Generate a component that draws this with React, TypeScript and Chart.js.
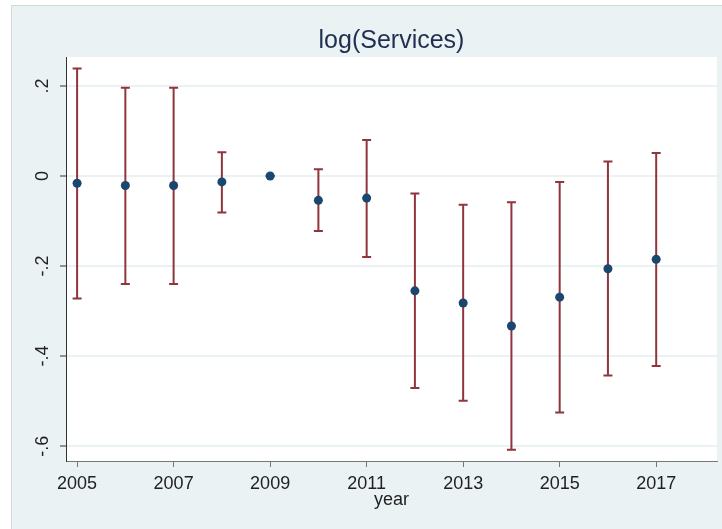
import React, { useEffect, useRef } from 'react';
import { Chart, registerables } from 'chart.js';

Chart.register(...registerables);

const chartTitle = 'log(Services)';
const xAxisTitle = 'year';
const years = [2005, 2006, 2007, 2008, 2009, 2010, 2011, 2012, 2013, 2014, 2015, 2016, 2017];
const coef = [-0.016, -0.021, -0.021, -0.013, 0, -0.054, -0.049, -0.255, -0.282, -0.333, -0.269, -0.206, -0.185];
const upper = [0.239, 0.196, 0.196, 0.053, 0, 0.015, 0.08, -0.039, -0.064, -0.058, -0.013, 0.032, 0.051];
const lower = [-0.272, -0.24, -0.24, -0.081, 0, -0.122, -0.18, -0.471, -0.499, -0.608, -0.525, -0.443, -0.422];
const xTicks = [2005, 2007, 2009, 2011, 2013, 2015, 2017];
const yTicks = [-0.6, -0.4, -0.2, 0, 0.2];

const FONT = '"Liberation Sans", Arial, Helvetica, sans-serif';
const PANEL = '#eaf2f3';
const NAVY = '#1a476f';
const MAROON = '#90353b';

const fmtY = (v: number) => {
  if (Math.abs(v) < 1e-9) return '0';
  const s = Math.abs(v).toFixed(1).replace(/^0/, '');
  return (v < 0 ? '-' : '') + s;
};

const backgroundPlugin = {
  id: 'bgPanel',
  beforeDraw(chart: any) {
    const { ctx, chartArea, width, height } = chart;
    ctx.save();
    ctx.fillStyle = '#ffffff';
    ctx.fillRect(0, 0, width, height);
    ctx.fillStyle = PANEL;
    ctx.fillRect(11, 5, width - 11, height - 5);
    ctx.strokeStyle = '#d3d8da';
    ctx.lineWidth = 1;
    ctx.beginPath();
    ctx.moveTo(11.5, height);
    ctx.lineTo(11.5, 5.5);
    ctx.lineTo(width, 5.5);
    ctx.stroke();
    ctx.fillStyle = '#ffffff';
    ctx.fillRect(chartArea.left, chartArea.top, chartArea.right - chartArea.left, chartArea.bottom - chartArea.top);
    // title
    ctx.fillStyle = '#1f2f4f';
    ctx.font = `25px ${FONT}`;
    ctx.textAlign = 'center';
    ctx.textBaseline = 'alphabetic';
    ctx.fillText(chartTitle, (chartArea.left + chartArea.right) / 2, 48);
    ctx.restore();
  },
};

const errorBarPlugin = {
  id: 'errorBars',
  beforeDatasetsDraw(chart: any) {
    const { ctx, scales } = chart;
    const xs = scales.x;
    const ys = scales.y;
    ctx.save();
    ctx.strokeStyle = MAROON;
    ctx.lineWidth = 2;
    const cap = 4.5;
    years.forEach((yr, i) => {
      const px = xs.getPixelForValue(yr);
      const pu = ys.getPixelForValue(upper[i]);
      const pl = ys.getPixelForValue(lower[i]);
      ctx.beginPath();
      ctx.moveTo(px, pu);
      ctx.lineTo(px, pl);
      ctx.moveTo(px - cap, pu);
      ctx.lineTo(px + cap, pu);
      ctx.moveTo(px - cap, pl);
      ctx.lineTo(px + cap, pl);
      ctx.stroke();
    });
    ctx.restore();
  },
};

export default function App() {
  const canvasRef = useRef<HTMLCanvasElement | null>(null);

  useEffect(() => {
    if (!canvasRef.current) return;
    const chart = new Chart(canvasRef.current, {
      type: 'scatter',
      data: {
        datasets: [
          {
            label: 'coef',
            data: years.map((x, i) => ({ x, y: coef[i] })),
            pointRadius: 4.5,
            pointHoverRadius: 4.5,
            pointBackgroundColor: NAVY,
            pointBorderWidth: 0,
            showLine: false,
          },
        ],
      },
      options: {
        animation: false,
        responsive: false,
        devicePixelRatio: 1,
        layout: { padding: { top: 57, right: 5, left: 0, bottom: 0 } },
        plugins: {
          legend: { display: false },
          tooltip: { enabled: false },
          title: { display: false },
        },
        scales: {
          x: {
            type: 'linear',
            position: 'bottom',
            min: 2004.77,
            max: 2018.26,
            afterBuildTicks: (s: any) => {
              s.ticks = xTicks.map((v) => ({ value: v }));
            },
            afterFit: (s: any) => {
              s.height = 68;
            },
            grid: {
              drawOnChartArea: false,
              drawTicks: true,
              tickLength: 6,
              tickColor: '#777777',
              tickWidth: 1,
            },
            border: { color: '#777777', width: 1 },
            ticks: {
              color: '#222222',
              font: { size: 18, family: FONT },
              padding: 6,
              maxRotation: 0,
              minRotation: 0,
              autoSkip: false,
              callback: (v: any) => String(v),
            },
            title: {
              display: true,
              text: xAxisTitle,
              color: '#222222',
              font: { size: 18, family: FONT },
              padding: { top: 0, bottom: 18 },
            },
          },
          y: {
            type: 'linear',
            min: -0.633,
            max: 0.2644,
            afterBuildTicks: (s: any) => {
              s.ticks = yTicks.map((v) => ({ value: v }));
            },
            afterFit: (s: any) => {
              s.width = 66;
            },
            grid: {
              color: PANEL,
              lineWidth: 2,
              drawTicks: true,
              tickLength: 6,
              tickColor: '#333333',
              tickWidth: 1,
            },
            border: { color: '#333333', width: 1 },
            ticks: {
              minRotation: 90,
              maxRotation: 90,
              crossAlign: 'center',
              padding: 6,
              color: '#222222',
              font: { size: 18, family: FONT },
              autoSkip: false,
              callback: (v: any) => fmtY(Number(v)),
            },
          },
        },
      } as any,
      plugins: [backgroundPlugin, errorBarPlugin],
    });
    return () => chart.destroy();
  }, []);

  return (
    <div style={{ position: 'absolute', left: 0, top: 0, width: 722, height: 529 }}>
      <canvas ref={canvasRef} width={722} height={529} style={{ display: 'block' }} />
    </div>
  );
}
